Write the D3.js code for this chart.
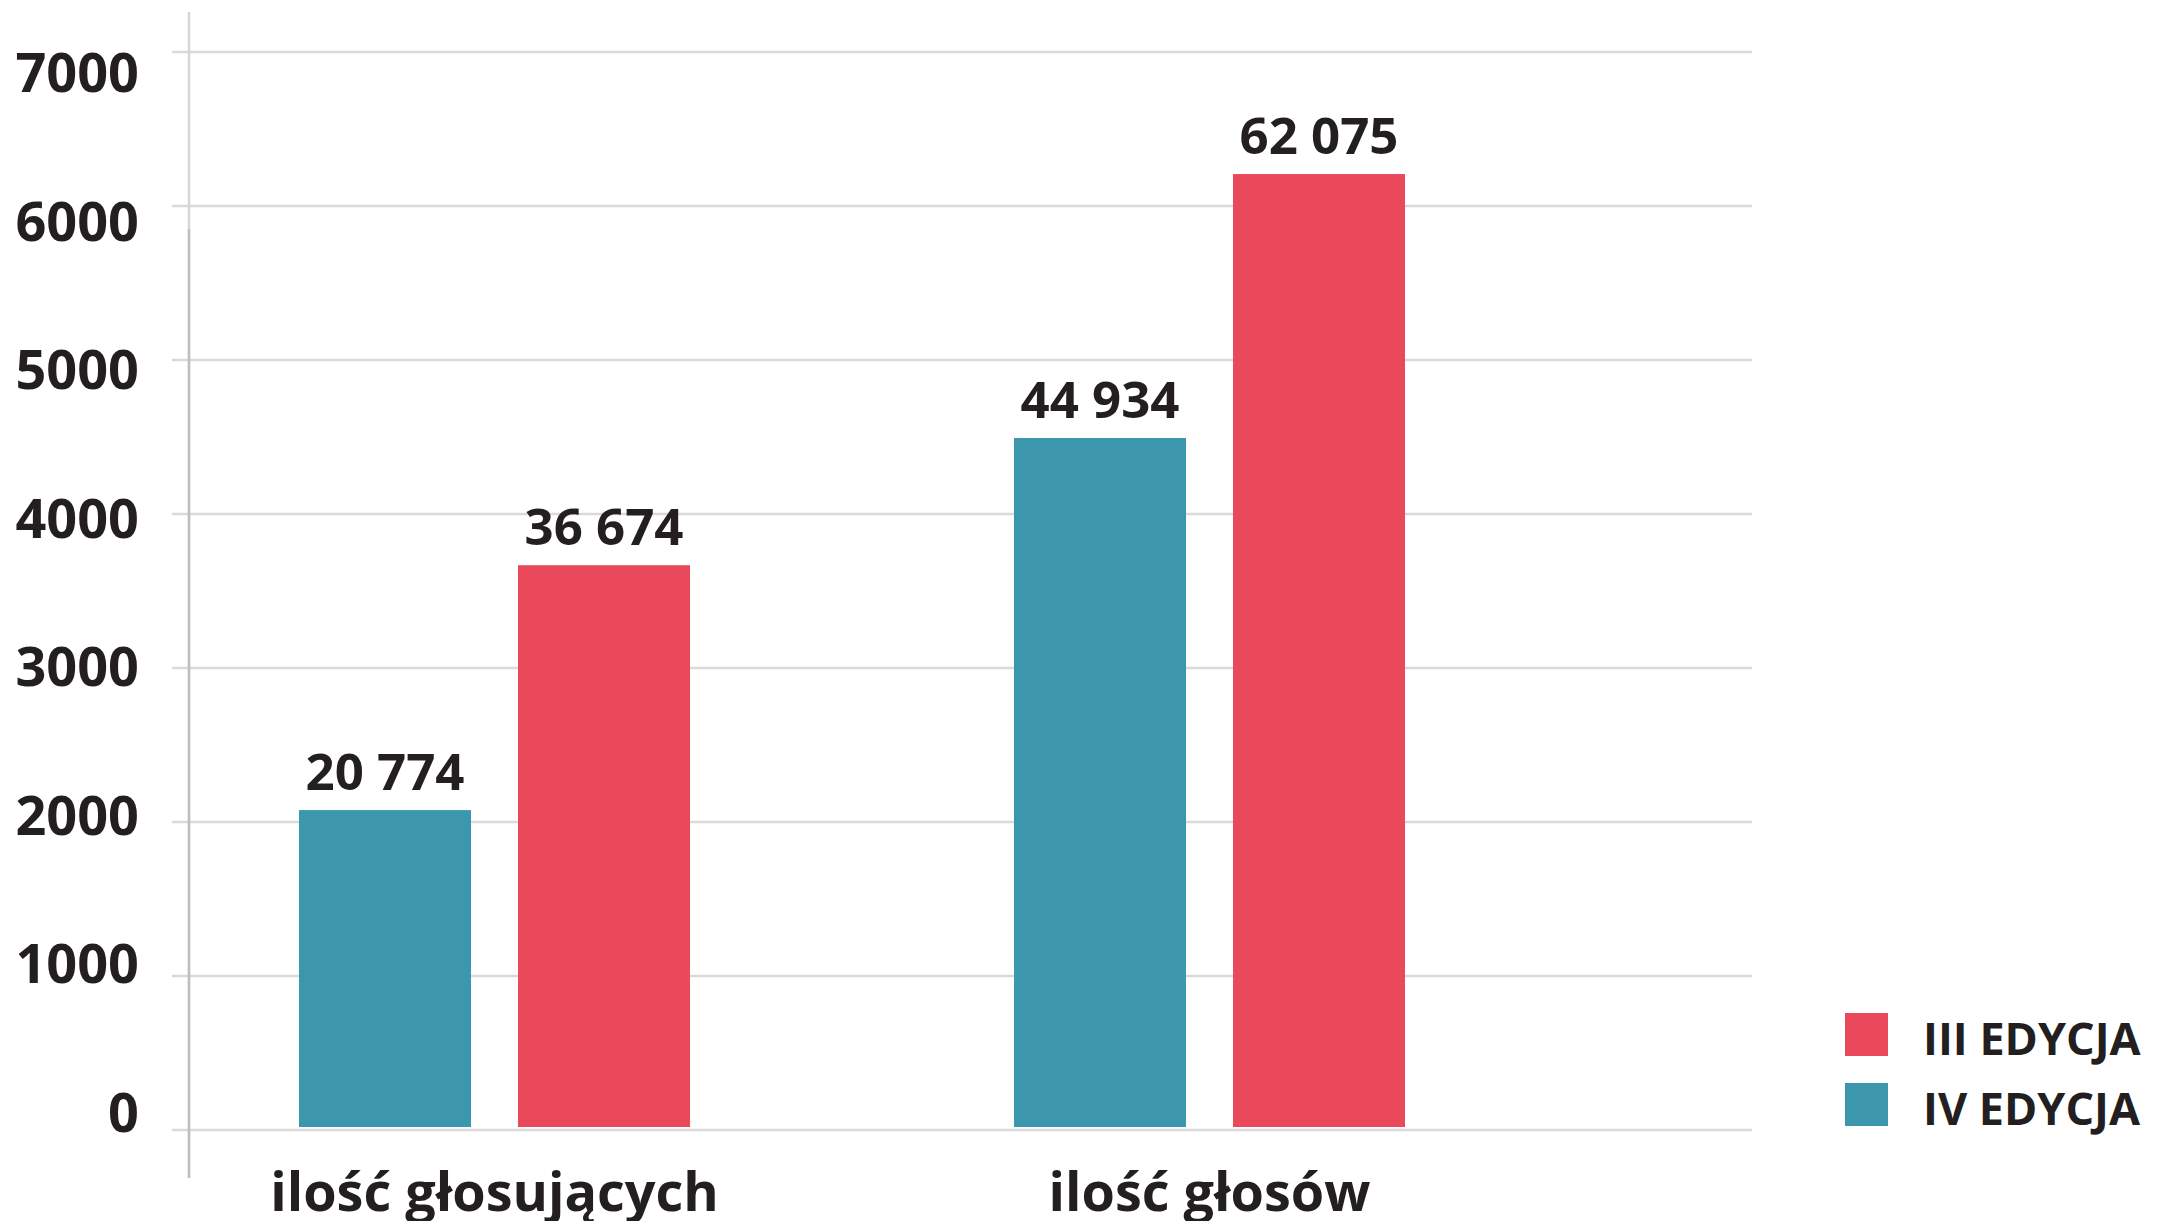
<!DOCTYPE html>
<html>
<head>
<meta charset="utf-8">
<script src="https://cdn.jsdelivr.net/npm/d3@7"></script>
<style>
  html, body { margin: 0; padding: 0; background: #fff; }
  svg { display: block; }
  text { font-family: "Open Sans", "Noto Sans", sans-serif; font-weight: 700; fill: #231f20; }
</style>
</head>
<body>
<div id="chart"></div>
<script>
// data
var categories = ["ilość głosujących", "ilość głosów"];
var seriesNames = ["IV EDYCJA", "III EDYCJA"];
var edycjaIV = [20774, 44934];
var edycjaIII = [36674, 62075];
var seriesColors = ["#3c97ac", "#ea495c"];
var legendOrder = ["III EDYCJA", "IV EDYCJA"];
var yTicks = [0, 1000, 2000, 3000, 4000, 5000, 6000, 7000];
var axisUnit = 10; // bars are drawn on the 0-7000 axis as value / 10

var width = 2159, height = 1221;
var series = [edycjaIV, edycjaIII];

var svg = d3.select("#chart").append("svg")
    .attr("width", width)
    .attr("height", height);

var y = d3.scaleLinear().domain([0, 7000]).range([1130, 52]);
// tick labels sit slightly below their gridlines, on their own spacing
var yLabel = d3.scaleLinear().domain([0, 7000]).range([1132, 92]);

var x0 = d3.scaleBand().domain(categories).range([137, 1567]).padding(0);
var x1 = d3.scaleBand().domain(seriesNames).range([0, 391]).paddingInner(47 / 219).paddingOuter(0);
var groupOffset = (x0.bandwidth() - 391) / 2;

var fmt = d3.formatLocale({ decimal: ",", thousands: " ", grouping: [3], currency: ["", ""] }).format(",");

// gridlines
svg.append("g")
    .selectAll("line")
    .data(yTicks)
    .enter()
    .append("line")
    .attr("x1", 172)
    .attr("x2", 1752)
    .attr("y1", function(d) { return y(d); })
    .attr("y2", function(d) { return y(d); })
    .style("stroke", "#d9d9d9")
    .style("stroke-width", 2.6);

// vertical axis line (lighter at the top)
svg.append("line")
    .attr("x1", 189).attr("x2", 189)
    .attr("y1", y(7000) - 40).attr("y2", y(0) + 48)
    .style("stroke", "#d6d6da").style("stroke-width", 2.4);
svg.append("line")
    .attr("x1", 189).attr("x2", 189)
    .attr("y1", y(5850)).attr("y2", y(0) + 48)
    .style("stroke", "#bdbec3").style("stroke-width", 2.4);

// y tick labels
svg.append("g")
    .selectAll("text")
    .data(yTicks)
    .enter()
    .append("text")
    .attr("x", 139)
    .attr("y", function(d) { return yLabel(d); })
    .attr("text-anchor", "end")
    .style("font-size", "54px")
    .text(function(d) { return d; });

// bars
var groups = svg.append("g")
    .selectAll("g")
    .data(categories)
    .enter()
    .append("g")
    .attr("transform", function(d) { return "translate(" + (x0(d) + groupOffset) + ",0)"; });

groups.selectAll("rect")
    .data(function(d, i) {
        return seriesNames.map(function(s, j) { return { name: s, value: series[j][i], color: seriesColors[j] }; });
    })
    .enter()
    .append("rect")
    .attr("x", function(d) { return x1(d.name); })
    .attr("width", x1.bandwidth())
    .attr("y", function(d) { return y(d.value / axisUnit); })
    .attr("height", function(d) { return y(0) - 3 - y(d.value / axisUnit); })
    .style("fill", function(d) { return d.color; });

groups.selectAll("text.value")
    .data(function(d, i) {
        return seriesNames.map(function(s, j) { return { name: s, value: series[j][i] }; });
    })
    .enter()
    .append("text")
    .attr("class", "value")
    .attr("x", function(d) { return x1(d.name) + x1.bandwidth() / 2; })
    .attr("y", function(d) { return y(d.value / axisUnit) - 20; })
    .attr("text-anchor", "middle")
    .style("font-size", "51px")
    .text(function(d) { return fmt(d.value); });

// category labels
svg.append("g")
    .selectAll("text")
    .data(categories)
    .enter()
    .append("text")
    .attr("x", function(d) { return x0(d) + x0.bandwidth() / 2; })
    .attr("y", 1211)
    .attr("text-anchor", "middle")
    .style("font-size", "54px")
    .text(function(d) { return d; });

// legend
var legend = svg.append("g")
    .selectAll("g")
    .data(legendOrder)
    .enter()
    .append("g")
    .attr("transform", function(d, i) { return "translate(1845," + (1013 + i * 70) + ")"; });

legend.append("rect")
    .attr("width", 43)
    .attr("height", 43)
    .style("fill", function(d) { return seriesColors[seriesNames.indexOf(d)]; });

legend.append("text")
    .attr("x", 78)
    .attr("y", 42)
    .style("font-size", "45px")
    .text(function(d) { return d; });
</script>
</body>
</html>
